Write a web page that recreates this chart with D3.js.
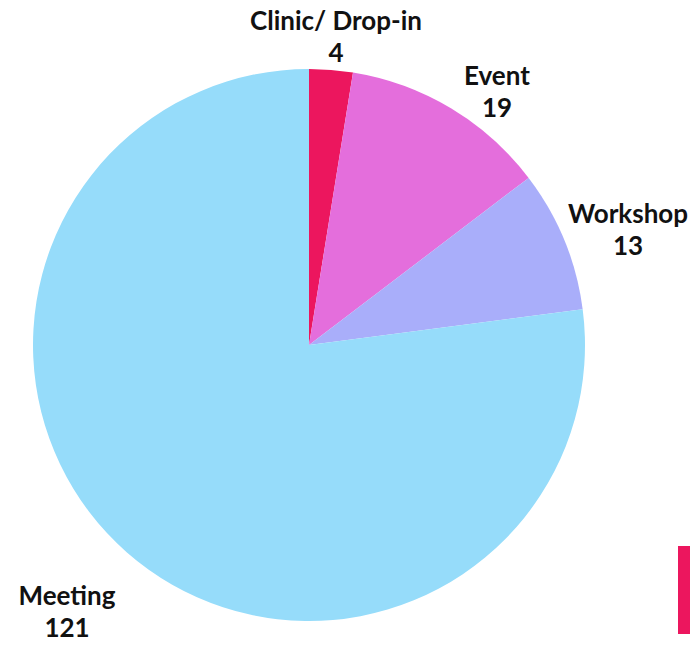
<!DOCTYPE html>
<html><head><meta charset="utf-8">
<script src="https://cdn.jsdelivr.net/npm/d3@7"></script>
<style>html,body{margin:0;padding:0;background:#fff;}svg{display:block;}</style>
</head><body>
<svg id="chart" width="690" height="645"></svg>
<script>
const categories = ["Clinic/ Drop-in", "Event", "Workshop", "Meeting"];
const values = [4, 19, 13, 121];
const colors = ["#EC165E", "#E46EDC", "#A9AEFA", "#96DCFA"];
// label anchor positions (centre x, first baseline y)
const labelX = [336, 497, 628, 67];
const labelY = [30, 85, 223, 605];

const svg = d3.select("#chart");
const cx = 309, cy = 345, r = 276;
const data = categories.map((c, i) => ({cat: c, value: values[i], color: colors[i], lx: labelX[i], ly: labelY[i]}));

const pie = d3.pie().value(d => d.value).sort(null);
const arc = d3.arc().innerRadius(0).outerRadius(r);

const g = svg.append("g").attr("transform", `translate(${cx},${cy})`);
g.selectAll("path").data(pie(data)).join("path")
  .attr("d", arc)
  .attr("fill", d => d.data.color);

const labels = svg.append("g")
  .attr("font-family", "Lato, 'Open Sans', sans-serif")
  .attr("font-weight", "bold")
  .attr("font-size", 26)
  .attr("fill", "#111")
  .attr("text-anchor", "middle");
data.forEach(d => {
  const t = labels.append("text").attr("x", d.lx).attr("y", d.ly);
  t.append("tspan").attr("x", d.lx).text(d.cat);
  t.append("tspan").attr("x", d.lx).attr("dy", 31.5).text(d.value);
});

// decorative accent bar at lower right
svg.append("rect").attr("x", 678).attr("y", 546).attr("width", 12).attr("height", 88).attr("fill", "#EC165E");
</script>
</body></html>
